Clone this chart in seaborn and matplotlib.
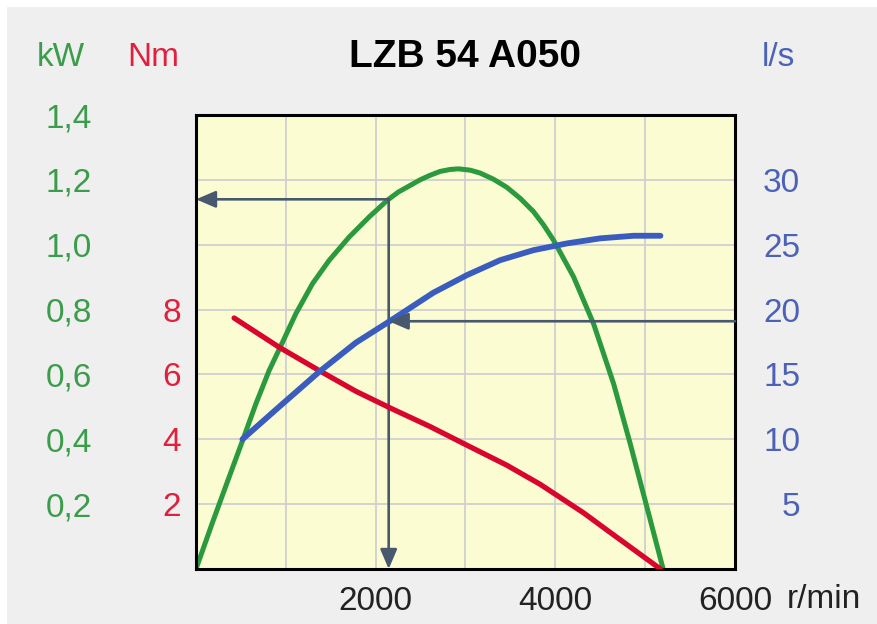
import matplotlib
matplotlib.use("Agg")
import matplotlib.pyplot as plt
import seaborn as sns
import pandas as pd
from matplotlib.patches import Rectangle

# ---------------- data ----------------
power_rpm = [0, 183, 368, 517, 666, 814, 963, 1111, 1297, 1483, 1706, 1929, 2134, 2250,
             2494, 2605, 2717, 2828, 2921, 3051, 3163, 3311, 3460, 3609, 3757, 3869,
             3980, 4203, 4426, 4649, 4835, 5021, 5200]
power_kw = [0.0, 0.143, 0.283, 0.395, 0.509, 0.612, 0.699, 0.787, 0.880, 0.952, 1.024,
            1.086, 1.138, 1.162, 1.200, 1.214, 1.226, 1.232, 1.234, 1.230, 1.221, 1.202,
            1.177, 1.143, 1.102, 1.061, 1.014, 0.901, 0.756, 0.571, 0.385, 0.189, 0.0]

torque_rpm = [424, 925, 1371, 1780, 2189, 2600, 3014, 3460, 3832, 4315, 4575, 4798, 5170]
torque_nm = [7.74, 6.84, 6.12, 5.48, 4.93, 4.40, 3.82, 3.20, 2.61, 1.73, 1.20, 0.75, 0.0]

flow_rpm = [517, 925, 1371, 1780, 2189, 2642, 3014, 3386, 3757, 4129, 4500, 4872, 5170]
flow_ls = [10.0, 12.5, 15.2, 17.45, 19.25, 21.3, 22.65, 23.81, 24.58, 25.10, 25.49,
           25.69, 25.69]

# operating point marked by the arrows
op_rpm = 2145
op_kw = 1.14
op_flow = 19.1

x_ticks = [1000, 2000, 3000, 4000, 5000, 6000]
x_labels = ["", "2000", "", "4000", "", "6000"]
kw_ticks = [0.2, 0.4, 0.6, 0.8, 1.0, 1.2, 1.4]
kw_labels = ["0,2", "0,4", "0,6", "0,8", "1,0", "1,2", "1,4"]
nm_ticks = [2, 4, 6, 8]
ls_ticks = [5, 10, 15, 20, 25, 30]

title = "LZB 54 A050"

# ---------------- style ----------------
sns.set_theme(style="white")
plt.rcParams["font.family"] = ["Liberation Sans", "DejaVu Sans"]
plt.rcParams["lines.solid_joinstyle"] = "round"
plt.rcParams["lines.solid_capstyle"] = "round"

GREEN = "#2b9a3f"
RED = "#d8062e"
BLUE = "#3a5cbf"
ARROW = "#48586f"
GREEN_T = "#3b9d4b"
RED_T = "#e0213d"
BLUE_T = "#4b62b6"
FS = 24

W, H = 878, 624
fig = plt.figure(figsize=(W / 100, H / 100), dpi=100)
fig.patch.set_facecolor("white")
fig.patches.append(Rectangle((7 / W, 0), 1, (H - 7) / H, transform=fig.transFigure,
                             facecolor="#efefef", edgecolor="none", zorder=-10))

L, R, T, B = 196, 735, 115, 569
ax = fig.add_axes([L / W, 1 - B / H, (R - L) / W, (B - T) / H])
ax.set_facecolor("#fcfcd2")

df_p = pd.DataFrame({"rpm": power_rpm, "kW": power_kw})
df_t = pd.DataFrame({"rpm": torque_rpm, "Nm": torque_nm})
df_f = pd.DataFrame({"rpm": flow_rpm, "ls": flow_ls})

sns.lineplot(data=df_p, x="rpm", y="kW", ax=ax, color=GREEN, lw=3.6, zorder=3)
ax.set_xlim(0, 6000)
ax.set_ylim(0, 1.4)
ax.set_xticks(x_ticks)
ax.set_xticklabels(x_labels)
ax.set_yticks(kw_ticks)
ax.set_yticklabels(kw_labels)
ax.grid(True, color="#cfcfcf", lw=1.3)
ax.set_axisbelow(True)
ax.tick_params(axis="y", length=0, pad=75, labelsize=FS, labelcolor=GREEN_T)
ax.tick_params(axis="x", length=0, pad=12, labelsize=FS, labelcolor="#222222")
ax.set_xlabel("")
ax.set_ylabel("")
for s in ax.spines.values():
    s.set_color("black")
    s.set_linewidth(2.2)
    s.set_zorder(10)

ap = dict(arrowstyle="-|>,head_length=0.7,head_width=0.3", color=ARROW, lw=1.9,
          mutation_scale=17, shrinkA=0, shrinkB=0)
ax.annotate("", xy=(0, op_kw), xytext=(op_rpm, op_kw), arrowprops=ap, zorder=4)
ax.annotate("", xy=(op_rpm, 0), xytext=(op_rpm, op_kw), arrowprops=ap, zorder=4)

# torque axis (left, inner)
ax_nm = ax.twinx()
sns.lineplot(data=df_t, x="rpm", y="Nm", ax=ax_nm, color=RED, lw=3.8)
ax_nm.set_ylim(0, 14)
ax_nm.yaxis.tick_left()
ax_nm.set_yticks(nm_ticks)
ax_nm.set_yticklabels([str(v) for v in nm_ticks])
ax_nm.tick_params(axis="y", length=0, pad=11, labelsize=FS, labelcolor=RED_T)
ax_nm.set_ylabel("")
ax_nm.grid(False)
for s in ax_nm.spines.values():
    s.set_visible(False)

# flow axis (right)
ax_ls = ax.twinx()
sns.lineplot(data=df_f, x="rpm", y="ls", ax=ax_ls, color=BLUE, lw=4.2)
ax_ls.set_ylim(0, 35)
ax_ls.set_xlim(0, 6000)
ax_ls.set_yticks(ls_ticks)
ax_ls.set_yticklabels([str(v) for v in ls_ticks])
ax_ls.tick_params(axis="y", length=0, pad=47, labelsize=FS, labelcolor=BLUE_T)
for lab in ax_ls.get_yticklabels():
    lab.set_horizontalalignment("right")
ax_ls.set_ylabel("")
ax_ls.grid(False)
for s in ax_ls.spines.values():
    s.set_visible(False)
ax_ls.annotate("", xy=(op_rpm, op_flow), xytext=(6000, op_flow), arrowprops=ap)

# headers
fig.text(61 / W, 1 - 58 / H, "kW", color=GREEN_T, fontsize=FS, ha="center", va="center")
fig.text(153 / W, 1 - 58 / H, "Nm", color=RED_T, fontsize=FS, ha="center", va="center")
fig.text(778 / W, 1 - 58 / H, "l/s", color=BLUE_T, fontsize=FS, ha="center", va="center")
fig.text(465 / W, 1 - 57 / H, title, color="black", fontsize=28, fontweight="bold",
         ha="center", va="center")
fig.text(787 / W, 1 - 600 / H, "r/min", color="#222222", fontsize=FS, ha="left", va="center")

fig.savefig("out.png", dpi=100)
